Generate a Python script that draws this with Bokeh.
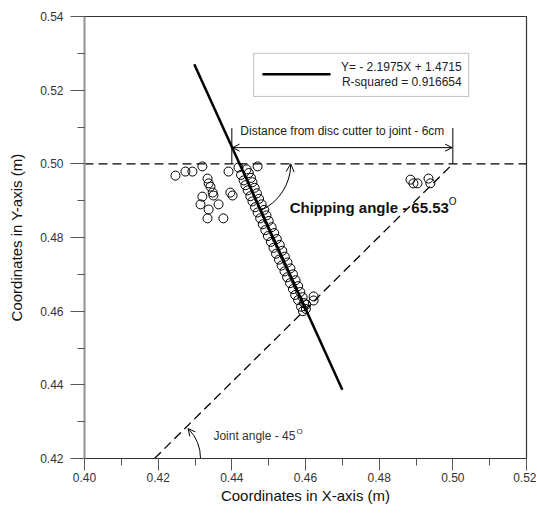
import math
from bokeh.plotting import figure
from bokeh.models import (Range1d, Label, Arrow, OpenHead, BoxAnnotation,
                          FixedTicker, CustomJSTickFormatter)
from bokeh.embed import file_html
from bokeh.resources import INLINE

# ---------------- data ----------------
cluster_x = [0.4418, 0.4440, 0.4446, 0.4425, 0.4452, 0.4432, 0.4456, 0.4437, 0.4462, 0.4443,
             0.4468, 0.4450, 0.4474, 0.4456, 0.4481, 0.4463, 0.4488, 0.4470, 0.4494, 0.4477,
             0.4500, 0.4484, 0.4508, 0.4491, 0.4515, 0.4498, 0.4522, 0.4506, 0.4530, 0.4513,
             0.4537, 0.4520, 0.4544, 0.4528, 0.4551, 0.4535, 0.4559, 0.4543, 0.4566, 0.4550,
             0.4573, 0.4558, 0.4580, 0.4566, 0.4586, 0.4572, 0.4592, 0.4580, 0.4596, 0.4588,
             0.4601, 0.4593, 0.4602]
cluster_y = [0.4990, 0.4985, 0.4975, 0.4970, 0.4962, 0.4955, 0.4950, 0.4942, 0.4935, 0.4928,
             0.4920, 0.4912, 0.4905, 0.4898, 0.4890, 0.4882, 0.4875, 0.4868, 0.4860, 0.4852,
             0.4845, 0.4836, 0.4828, 0.4820, 0.4812, 0.4804, 0.4796, 0.4788, 0.4780, 0.4772,
             0.4764, 0.4756, 0.4748, 0.4740, 0.4732, 0.4724, 0.4716, 0.4708, 0.4700, 0.4692,
             0.4684, 0.4676, 0.4668, 0.4660, 0.4652, 0.4644, 0.4638, 0.4630, 0.4622, 0.4612,
             0.4606, 0.4600, 0.4618]
left_x = [0.4247, 0.4274, 0.4293, 0.4320, 0.4391, 0.4470, 0.4334, 0.4337, 0.4342, 0.4348,
          0.4350, 0.4320, 0.4315, 0.4364, 0.4337, 0.4334, 0.4377, 0.4396, 0.4402]
left_y = [0.4968, 0.4979, 0.4979, 0.4993, 0.4979, 0.4993, 0.4960, 0.4947, 0.4938, 0.4922,
          0.4914, 0.4911, 0.4890, 0.4890, 0.4876, 0.4852, 0.4852, 0.4922, 0.4914]
right_x = [0.4885, 0.4893, 0.4904, 0.4934, 0.4939, 0.4622, 0.4622]
right_y = [0.4957, 0.4947, 0.4947, 0.4960, 0.4947, 0.4640, 0.4629]

pts_x = cluster_x + left_x + right_x
pts_y = cluster_y + left_y + right_y

slope = -2.1975
intercept = 1.4715
fit_x = [0.4298, 0.4700]
fit_y = [slope * v + intercept for v in fit_x]

cutter_y = 0.50             # horizontal reference line
joint_x = [0.4190, 0.5000]  # joint line at 45 degrees
joint_y = [0.4200, 0.5000]
chip_angle = 65.53

x_ticks = [0.40, 0.42, 0.44, 0.46, 0.48, 0.50, 0.52]
y_ticks = [0.42, 0.44, 0.46, 0.48, 0.50, 0.52, 0.54]

FONT = "Liberation Sans"

p = figure(width=536, height=513, output_backend="svg", toolbar_location=None,
           x_range=Range1d(0.40, 0.52), y_range=Range1d(0.42, 0.54),
           min_border_left=84, min_border_right=10, min_border_top=16, min_border_bottom=55)
p.grid.visible = False
p.outline_line_color = "#333333"
p.outline_line_width = 1.2
p.background_fill_color = "white"
p.border_fill_color = "white"

fmt = CustomJSTickFormatter(code="return tick.toFixed(2);")
for ax, ticks in ((p.xaxis[0], x_ticks), (p.yaxis[0], y_ticks)):
    ax.ticker = FixedTicker(ticks=ticks,
                            minor_ticks=[t + 0.01 for t in ticks[:-1]])
    ax.formatter = fmt
    ax.major_tick_in = 0
    ax.minor_tick_in = 0
    ax.minor_tick_out = 7
    ax.major_tick_line_color = "#555555"
    ax.minor_tick_line_color = "#555555"
    ax.major_label_text_font = FONT
    ax.major_label_text_font_size = "12px"
    ax.major_label_text_color = "#333333"
    ax.axis_label_text_font = FONT
    ax.axis_label_text_font_size = "15px"
    ax.axis_label_text_font_style = "normal"
    ax.axis_label_text_color = "#111111"

xa, ya = p.xaxis[0], p.yaxis[0]
xa.major_tick_out = 12
xa.major_label_standoff = 2
xa.axis_label_standoff = 2
ya.major_tick_out = 14
ya.major_label_standoff = 7
ya.axis_label_standoff = 12

xa.axis_line_color = "#333333"
ya.axis_line_color = "#999999"
ya.axis_line_width = 2
xa.axis_label = "Coordinates in X-axis (m)"
ya.axis_label = "Coordinates in Y-axis (m)"

# dashed reference lines
p.line([0.40, 0.52], [cutter_y, cutter_y], line_color="black", line_width=1.3, line_dash="9 5")
p.line(joint_x, joint_y, line_color="black", line_width=1.3, line_dash="9 5")

# scatter points
p.scatter(pts_x, pts_y, size=9, fill_color=None, line_color="black", line_width=1)

# regression line
p.line(fit_x, fit_y, line_color="black", line_width=2.5)

# legend box (manual)
p.add_layout(BoxAnnotation(left=0.4459, right=0.5043, top=0.5300, bottom=0.5183,
                           fill_color="white", fill_alpha=1, line_color="#333333",
                           line_width=1, level="annotation"))
p.segment(x0=[0.4483], y0=[0.5243], x1=[0.4668], y1=[0.5243], line_color="black",
          line_width=2.5, level="overlay")
for txt, yy in (("Y= - 2.1975X + 1.4715", 0.5262), ("R-squared = 0.916654", 0.5222)):
    p.add_layout(Label(x=0.5024, y=yy, text=txt, text_align="right", text_baseline="middle",
                       text_font=FONT, text_font_size="12px", text_color="#222222",
                       level="overlay"))

# distance bracket
for bx in (0.44, 0.50):
    p.segment(x0=[bx], y0=[cutter_y], x1=[bx], y1=[0.5097], line_color="black", line_width=1)
p.add_layout(Arrow(start=OpenHead(size=7, line_width=1), end=OpenHead(size=7, line_width=1),
                   x_start=0.4402, y_start=0.5044, x_end=0.4998, y_end=0.5044,
                   line_color="black", line_width=1))
p.add_layout(Label(x=0.47, y=0.5088, text="Distance from disc cutter to joint - 6cm",
                   text_align="center", text_baseline="middle", text_font=FONT,
                   text_font_size="12px", text_color="#222222"))

# chipping angle arc
cx = (intercept - cutter_y) / -slope
r1 = 0.0139
a0 = -math.radians(chip_angle)
p.arc(x=[cx], y=[cutter_y], radius=r1, start_angle=a0, end_angle=-0.02,
      line_color="black", line_width=1)
p.add_layout(Arrow(end=OpenHead(size=8, line_width=1),
                   x_start=cx + r1 * math.cos(-0.15), y_start=cutter_y + r1 * math.sin(-0.15),
                   x_end=cx + r1, y_end=cutter_y, line_alpha=0))
p.add_layout(Label(x=0.4557, y=0.4881, text="Chipping angle - 65.53", text_align="left",
                   text_baseline="middle", text_font=FONT, text_font_size="15px",
                   text_font_style="bold", text_color="#111111"))
p.add_layout(Label(x=0.4557, y=0.4881, x_offset=159, y_offset=6, text="O", text_align="left",
                   text_baseline="middle", text_font=FONT, text_font_size="10px",
                   text_color="#111111"))

# joint angle arc
jx, jy = 0.4200, 0.4200
r2 = 0.0115
p.arc(x=[jx], y=[jy], radius=r2, start_angle=0.0, end_angle=math.radians(44),
      line_color="black", line_width=1)
p.add_layout(Arrow(end=OpenHead(size=7, line_width=1),
                   x_start=jx + r2 * math.cos(math.radians(32)),
                   y_start=jy + r2 * math.sin(math.radians(32)),
                   x_end=jx + r2 * math.cos(math.radians(45)),
                   y_end=jy + r2 * math.sin(math.radians(45)), line_alpha=0))
p.add_layout(Label(x=0.4350, y=0.4262, text="Joint angle - 45", text_align="left",
                   text_baseline="middle", text_font=FONT, text_font_size="12px",
                   text_color="#333333"))
p.add_layout(Label(x=0.4350, y=0.4262, x_offset=83, y_offset=4, text="O", text_align="left",
                   text_baseline="middle", text_font=FONT, text_font_size="8px",
                   text_color="#333333"))

open("out.html", "w").write(file_html(p, INLINE))
